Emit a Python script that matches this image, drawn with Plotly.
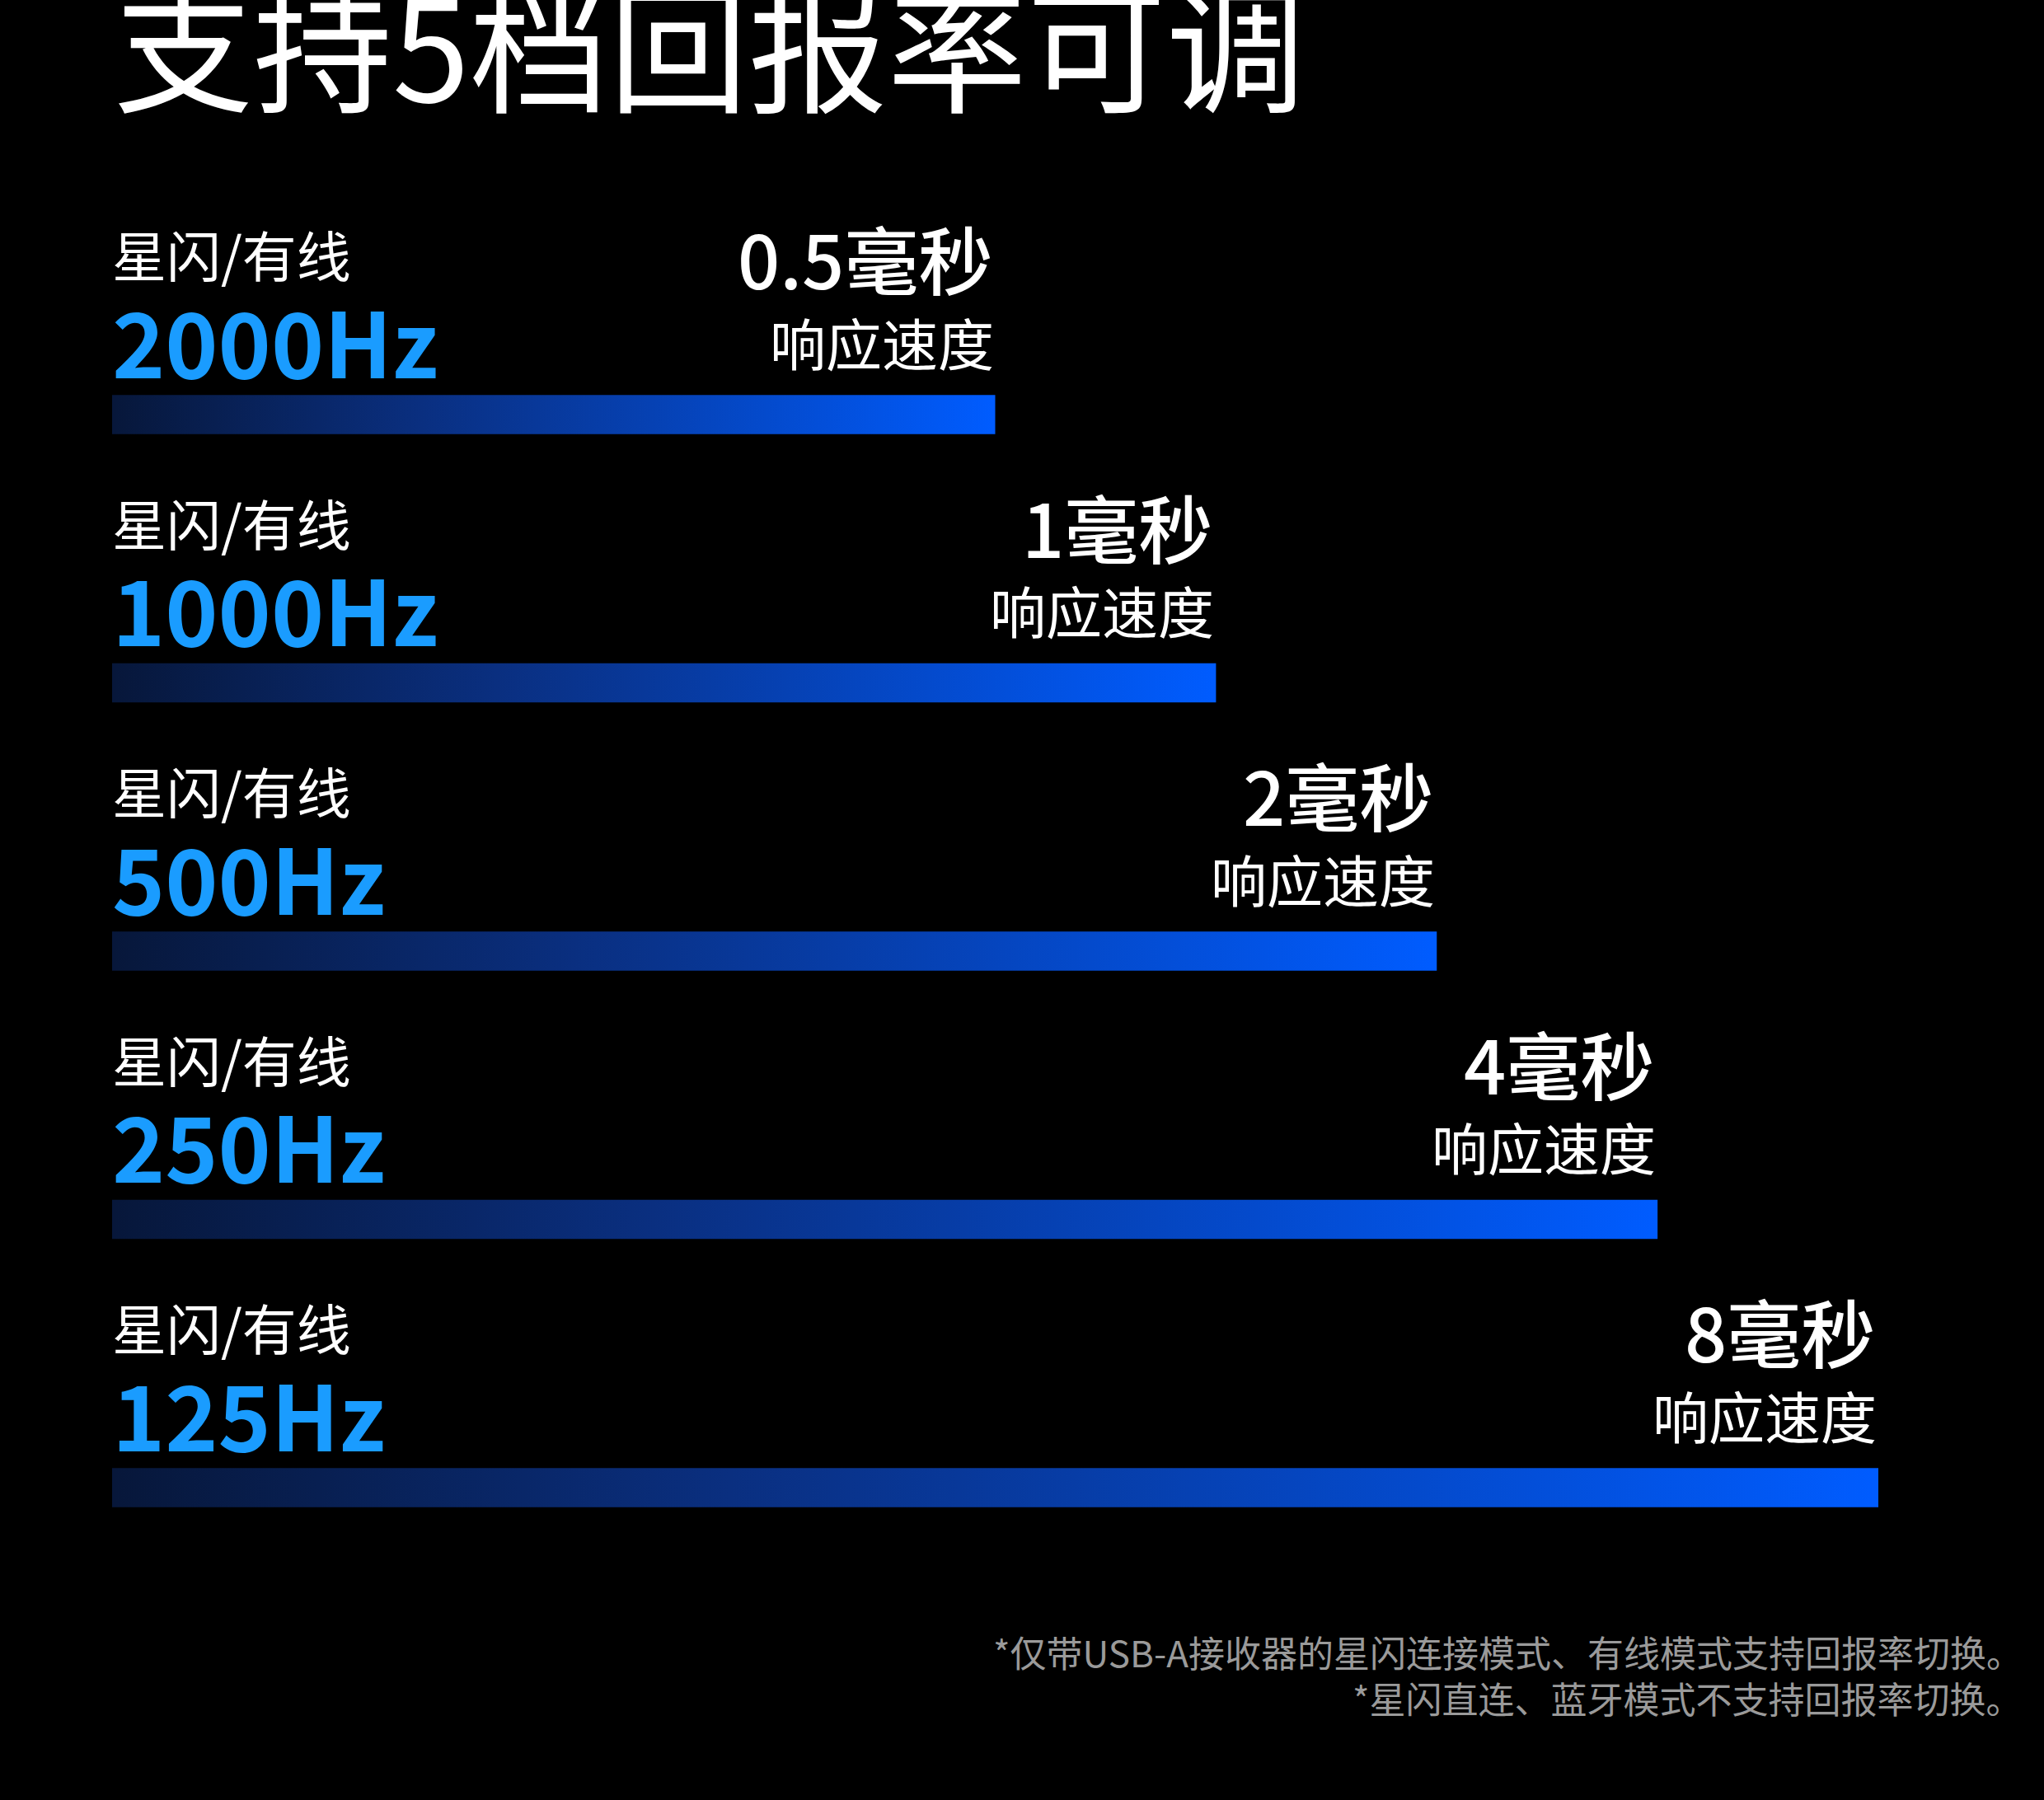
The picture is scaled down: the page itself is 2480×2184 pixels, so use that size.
import plotly.graph_objs as go

# report rates, response times and bar lengths
mode_labels = ['星闪/有线', '星闪/有线', '星闪/有线', '星闪/有线', '星闪/有线']
rates = ['2000Hz', '1000Hz', '500Hz', '250Hz', '125Hz']
latency = ['0.5毫秒', '1毫秒', '2毫秒', '4毫秒', '8毫秒']
bar_len = [4, 5, 6, 7, 8]

title_text = '支持5档回报率可调'
notes = ['*仅带USB-A接收器的星闪连接模式、有线模式支持回报率切换。',
         '*星闪直连、蓝牙模式不支持回报率切换。']

W, H = 2480, 2184
FONT = 'Noto Sans CJK SC'
half = 0.073

fig = go.Figure()

# gradient bars, one filled shape per level
for i, v in enumerate(bar_len):
    fig.add_trace(go.Scatter(
        x=[0, v, v, 0, 0],
        y=[i - half, i - half, i + half, i + half, i - half],
        mode='lines', fill='toself', line=dict(width=0),
        fillgradient=dict(type='horizontal',
                          colorscale=[[0, '#07173a'], [0.35, '#0a2f80'],
                                      [1, '#005cff']]),
        hoverinfo='skip', showlegend=False))

annotations = []
for i, v in enumerate(bar_len):
    annotations.append(dict(x=134 / W, xref='paper', y=i, yref='y', yshift=196,
                            text=mode_labels[i], showarrow=False, xanchor='left',
                            yanchor='middle',
                            font=dict(family=FONT, size=66, color='white')))
    annotations.append(dict(x=134 / W, xref='paper', y=i, yref='y', yshift=92,
                            text='<b>' + rates[i] + '</b>', showarrow=False,
                            xanchor='left', yanchor='middle',
                            font=dict(family=FONT, size=109, color='#1a9cff')))
    annotations.append(dict(x=v, xref='x', y=i, yref='y', yshift=191, xshift=-2,
                            text=latency[i], showarrow=False, xanchor='right',
                            yanchor='middle',
                            font=dict(family=FONT, size=90, color='white',
                                      weight=500)))
    annotations.append(dict(x=v, xref='x', y=i, yref='y', yshift=89, xshift=0,
                            text='响应速度', showarrow=False, xanchor='right',
                            yanchor='middle',
                            font=dict(family=FONT, size=68, color='white')))

annotations.append(dict(x=136 / W, xref='paper', y=1 - 50 / H, yref='paper',
                        text=title_text, showarrow=False, xanchor='left',
                        yanchor='middle',
                        font=dict(family=FONT, size=169, color='white')))
for k, note in enumerate(notes):
    annotations.append(dict(x=2456 / W, xref='paper', y=1 - (2004 + 56 * k) / H,
                            yref='paper', text=note, showarrow=False,
                            xanchor='right', yanchor='middle',
                            font=dict(family=FONT, size=44, color='#9a9a9a')))

fig.update_layout(
    width=W, height=H,
    margin=dict(l=0, r=0, t=0, b=0),
    paper_bgcolor='black', plot_bgcolor='black',
    xaxis=dict(domain=[136 / W, 2279 / W], range=[0, 8], visible=False,
               fixedrange=True),
    yaxis=dict(range=[(H - 503) / 325.5, -503 / 325.5], visible=False,
               fixedrange=True),
    annotations=annotations,
)

# page margin off so the figure fills the window
fig.write_html('out.html', config=dict(displayModeBar=False),
               post_script="document.body.style.margin='0';"
                           "document.body.style.background='black';")
